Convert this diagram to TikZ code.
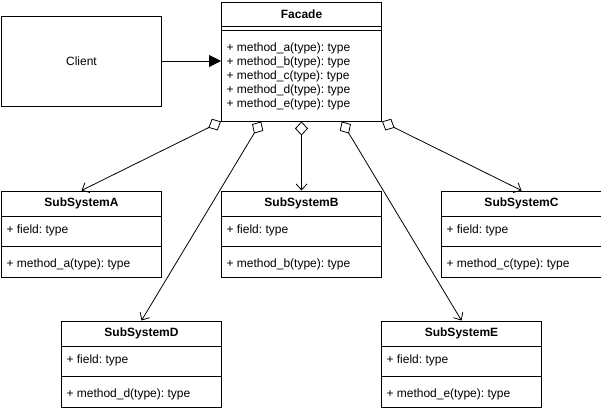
\documentclass[tikz,border=0pt]{standalone}
\usepackage{fontspec}
\setmainfont{Liberation Sans}
\frenchspacing
\usetikzlibrary{arrows.meta,calc}
\tikzset{
  uml/.style={x=1pt, y=-1pt, line width=1pt, font=\fontsize{12}{14}\selectfont},
  classbox/.style={draw, anchor=north west, minimum width=160pt, inner sep=0pt},
  cname/.style={font=\fontsize{12}{14}\selectfont\bfseries, inner sep=0pt},
  member/.style={anchor=west, inner sep=0pt, align=left},
  assoc/.style={line width=0.8pt,
    {Diamond[open,length=14pt,width=13pt]}-{Straight Barb[length=6pt,width=11pt]}},
}

\begin{document}
\begin{tikzpicture}[uml]
  \useasboundingbox (-1,-0.5) rectangle (600,409.5);
  % Client, left of the facade
  \node[classbox, minimum height=90pt] (client) at (0,15) {};
  \node (clientname) at (client.center) {Client};
  % Facade, top centre
  \node[classbox, minimum height=119pt] (facade) at (220,1) {};
  \node[cname] (facname) at ([yshift=-13pt]facade.north) {Facade};
  \draw ([yshift=-25pt]facade.north west) -- ([yshift=-25pt]facade.north east)
        ([yshift=-29pt]facade.north west) -- ([yshift=-29pt]facade.north east);
  \node[member] (facmeth) at ([xshift=5pt,yshift=-75pt]facade.north west)
    {+ method\_a(type): type\\+ method\_b(type): type\\+ method\_c(type): type\\
     + method\_d(type): type\\+ method\_e(type): type};
  % SubSystemA, left upper
  \node[classbox, minimum height=86pt] (subA) at (0,190) {};
  \node[cname] (subAname) at ([yshift=-13pt]subA.north) {SubSystemA};
  \draw ([yshift=-26pt]subA.north west) -- ([yshift=-26pt]subA.north east)
        ([yshift=-56pt]subA.north west) -- ([yshift=-56pt]subA.north east);
  \node[member] (subAfield) at ([xshift=5pt,yshift=-39.5pt]subA.north west) {+ field: type};
  \node[member] (subAmeth) at ([xshift=5pt,yshift=-73.5pt]subA.north west) {+ method\_a(type): type};
  % SubSystemB, centre
  \node[classbox, minimum height=86pt] (subB) at (220,190) {};
  \node[cname] (subBname) at ([yshift=-13pt]subB.north) {SubSystemB};
  \draw ([yshift=-26pt]subB.north west) -- ([yshift=-26pt]subB.north east)
        ([yshift=-56pt]subB.north west) -- ([yshift=-56pt]subB.north east);
  \node[member] (subBfield) at ([xshift=5pt,yshift=-39.5pt]subB.north west) {+ field: type};
  \node[member] (subBmeth) at ([xshift=5pt,yshift=-73.5pt]subB.north west) {+ method\_b(type): type};
  % SubSystemC, right upper
  \node[classbox, minimum height=86pt] (subC) at (440,190) {};
  \node[cname] (subCname) at ([yshift=-13pt]subC.north) {SubSystemC};
  \draw ([yshift=-26pt]subC.north west) -- ([yshift=-26pt]subC.north east)
        ([yshift=-56pt]subC.north west) -- ([yshift=-56pt]subC.north east);
  \node[member] (subCfield) at ([xshift=5pt,yshift=-39.5pt]subC.north west) {+ field: type};
  \node[member] (subCmeth) at ([xshift=5pt,yshift=-73.5pt]subC.north west) {+ method\_c(type): type};
  % SubSystemD, left lower
  \node[classbox, minimum height=86pt] (subD) at (60,320) {};
  \node[cname] (subDname) at ([yshift=-13pt]subD.north) {SubSystemD};
  \draw ([yshift=-26pt]subD.north west) -- ([yshift=-26pt]subD.north east)
        ([yshift=-56pt]subD.north west) -- ([yshift=-56pt]subD.north east);
  \node[member] (subDfield) at ([xshift=5pt,yshift=-39.5pt]subD.north west) {+ field: type};
  \node[member] (subDmeth) at ([xshift=5pt,yshift=-73.5pt]subD.north west) {+ method\_d(type): type};
  % SubSystemE, right lower
  \node[classbox, minimum height=86pt] (subE) at (380,320) {};
  \node[cname] (subEname) at ([yshift=-13pt]subE.north) {SubSystemE};
  \draw ([yshift=-26pt]subE.north west) -- ([yshift=-26pt]subE.north east)
        ([yshift=-56pt]subE.north west) -- ([yshift=-56pt]subE.north east);
  \node[member] (subEfield) at ([xshift=5pt,yshift=-39.5pt]subE.north west) {+ field: type};
  \node[member] (subEmeth) at ([xshift=5pt,yshift=-73.5pt]subE.north west) {+ method\_e(type): type};
  % client uses the facade
  \draw[-{Triangle[length=12pt,width=12pt]}] (client.east) -- (client.east -| facade.west);
  % facade aggregates the subsystems
  \draw[assoc] (facade.south west) -- (subA.north);
  \draw[assoc] ($(facade.south west)!0.25!(facade.south east)$) -- (subD.north);
  \draw[assoc] (facade.south) -- (subB.north);
  \draw[assoc] ($(facade.south west)!0.75!(facade.south east)$) -- (subE.north);
  \draw[assoc] (facade.south east) -- (subC.north);
\end{tikzpicture}
\end{document}
